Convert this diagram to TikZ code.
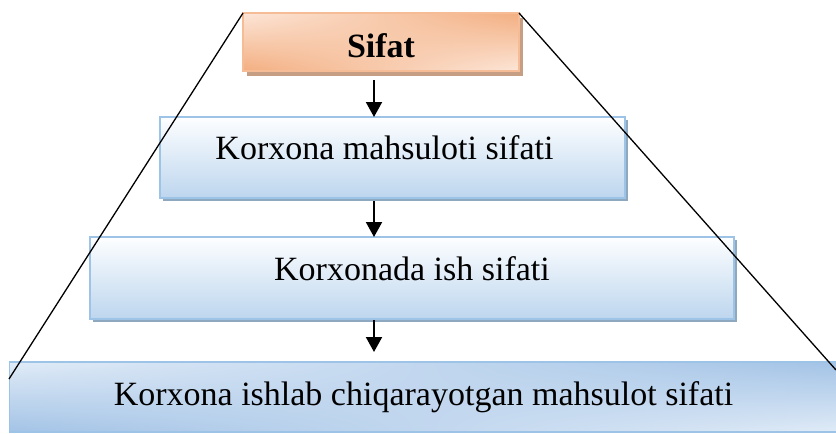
\documentclass[tikz,border=0pt]{standalone}
\usepackage{fontspec}
\setmainfont{Liberation Serif}
\usetikzlibrary{arrows.meta,shadows,shadings,calc}

\definecolor{blueedge}{HTML}{9DC3E6}
\definecolor{bluelow}{HTML}{BDD6EE}
\definecolor{bluehigh}{HTML}{FDFEFF}
\definecolor{blueshade}{HTML}{8EA8C0}
\definecolor{bluelight}{HTML}{E0EBF7}
\definecolor{bluedark}{HTML}{A3C3E6}
\definecolor{peachedge}{HTML}{F6BC96}
\definecolor{peachdark}{HTML}{F3AE80}
\definecolor{peachlight}{HTML}{FCE6D8}
\definecolor{peachshade}{HTML}{C59E84}

\tikzset{
  x=1pt, y=-1pt,
  every node/.style={font=\fontsize{34}{40}\selectfont, inner sep=0pt, outer sep=0pt},
  topbox/.style={draw=peachedge, line width=1.5pt,
    upper left=peachlight, lower right=peachlight,
    upper right=peachdark, lower left=peachdark,
    drop shadow={shadow xshift=4pt, shadow yshift=-5pt, fill=peachshade, opacity=1}},
  bluebox/.style={draw=blueedge, line width=1.5pt,
    top color=bluehigh, bottom color=bluelow,
    drop shadow={shadow xshift=3pt, shadow yshift=-3pt, fill=blueshade, opacity=1}},
  widebox/.style={draw=blueedge, line width=1.5pt,
    upper left=bluelight, lower right=bluelight,
    upper right=bluedark, lower left=bluedark},
  flow/.style={line width=2pt, -{Triangle[length=15pt,width=16pt]}},
  edge/.style={line width=1.3pt, black}
}

\begin{document}
\begin{tikzpicture}
\useasboundingbox (0,0) rectangle (836,434);

% the four levels, narrowest at the top
\node[topbox, minimum width=276pt, minimum height=58pt,
      text height=30pt, text depth=0pt] (b1) at (381,42) {\textbf{Sifat}};
\node[bluebox, minimum width=465pt, minimum height=81pt,
      text height=24pt, text depth=21pt] (b2) at (392.5,157.5)
      {Korxona mahsuloti sifati\hspace*{16pt}};
\node[bluebox, minimum width=644pt, minimum height=82pt,
      text height=24pt, text depth=20pt] (b3) at (412,278) {Korxonada ish sifati};
\node[widebox, minimum width=828pt, minimum height=70pt,
      text height=24pt, text depth=8pt] (b4) at (423.5,397)
      {Korxona ishlab chiqarayotgan mahsulot sifati};

% vertical arrows between the levels
\coordinate (ax) at (374,0);
\draw[flow, shorten <=9pt] (b1.south -| ax) -- (b2.north -| ax);
\draw[flow, shorten <=3pt] (b2.south -| ax) -- (b3.north -| ax);
\draw[flow, shorten <=1pt, shorten >=10pt] (b3.south -| ax) -- (b4.north -| ax);

% the two slanted sides of the pyramid
\coordinate (lfoot) at (9,379);
\coordinate (rfoot) at (836,370);
\draw[edge] (b1.north west) -- (lfoot);
\draw[edge] (b1.north east) -- (rfoot);
\end{tikzpicture}
\end{document}
